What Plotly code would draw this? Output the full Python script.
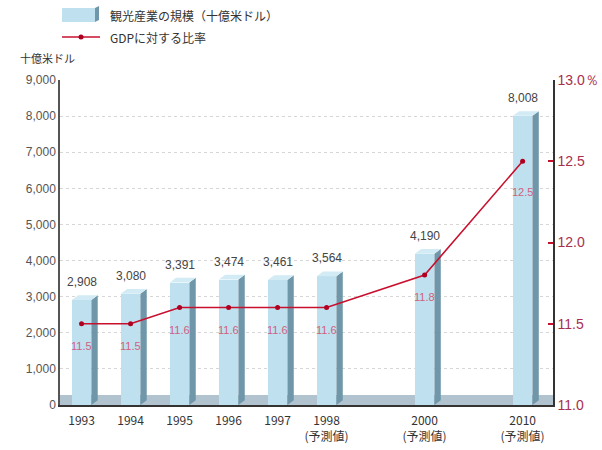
import plotly.graph_objects as go

# ---- data ----
categories = ["1993", "1994", "1995", "1996", "1997", "1998", "2000", "2010"]
forecast = [False, False, False, False, False, True, True, True]
positions = [0, 1, 2, 3, 4, 5, 7, 9]
tourism_size = [2908, 3080, 3391, 3474, 3461, 3564, 4190, 8008]
gdp_ratio = [11.5, 11.5, 11.6, 11.6, 11.6, 11.6, 11.8, 12.5]
left_ticks = [0, 1000, 2000, 3000, 4000, 5000, 6000, 7000, 8000, 9000]
right_ticks = [11.0, 11.5, 12.0, 12.5, 13.0]
right_ticktext = ["11.0", "11.5", "12.0", "12.5", "13.0％"]

# ---- style ----
FRONT = "#bfe1ef"
SIDE = "#6f97a9"
TOP = "#d2ebf5"
FLOOR = "#b0c3cf"
RED = "#c8102e"
FONT = "Liberation Sans, Arial, sans-serif"
JFONT = "Noto Sans CJK JP, sans-serif"

half_w = 0.2
depth_x = 0.13
depth_y = 130

tick_text = [c + ("<br>(予測値)" if f else "") for c, f in zip(categories, forecast)]

fig = go.Figure()

# front faces
fig.add_trace(go.Bar(
    x=positions, y=tourism_size, width=2 * half_w,
    marker=dict(color=FRONT, line=dict(width=0)),
    hoverinfo="skip", showlegend=False, yaxis="y",
))

# side faces and top faces, derived from the data
sx, sy, tx, ty = [], [], [], []
for p, v in zip(positions, tourism_size):
    xr = p + half_w
    xl = p - half_w
    sx += [xr, xr + depth_x, xr + depth_x, xr, xr, None]
    sy += [0, depth_y, v + depth_y, v, 0, None]
    tx += [xl, xr, xr + depth_x, xl + depth_x, xl, None]
    ty += [v, v, v + depth_y, v + depth_y, v, None]

fig.add_trace(go.Scatter(x=sx, y=sy, mode="lines", fill="toself", fillcolor=SIDE,
                         line=dict(width=0, color=SIDE), hoverinfo="skip",
                         showlegend=False, yaxis="y"))
fig.add_trace(go.Scatter(x=tx, y=ty, mode="lines", fill="toself", fillcolor=TOP,
                         line=dict(width=0, color=TOP), hoverinfo="skip",
                         showlegend=False, yaxis="y"))

# ratio line
fig.add_trace(go.Scatter(
    x=positions, y=gdp_ratio, mode="lines+markers", yaxis="y2",
    line=dict(color=RED, width=1.6),
    marker=dict(color="#b00020", size=5),
    hoverinfo="skip", showlegend=False,
))

annotations = []
for p, v in zip(positions, tourism_size):
    annotations.append(dict(x=p, y=v, xref="x", yref="y", text=f"{v:,}",
                            showarrow=False, yanchor="bottom", yshift=9,
                            font=dict(family=FONT, size=12, color="#444")))
for p, r in zip(positions, gdp_ratio):
    annotations.append(dict(x=p, y=r, xref="x", yref="y2", text=f"{r:.1f}",
                            showarrow=False, yanchor="middle",
                            yshift=-22 if r < 12 else -31,
                            font=dict(family=FONT, size=11, color="#cf6080")))

W, H = 602, 450
ML, MR, MT, MB = 60, 49, 80, 45
pw, ph = W - ML - MR, H - MT - MB


def px_to_paper(x, y):
    return (x - ML) / pw, (H - MB - y) / ph


for txt, x, y, size in [("十億米ドル", 18, 58, 11),
                        ("観光産業の規模（十億米ドル）", 108, 15, 12),
                        ("GDPに対する比率", 108, 37, 12)]:
    px, py = px_to_paper(x, y)
    annotations.append(dict(x=px, y=py, xref="paper", yref="paper", text=txt,
                            showarrow=False, xanchor="left", yanchor="middle",
                            font=dict(family=JFONT, size=size, color="#333")))

shapes = []
# floor band behind bars
shapes.append(dict(type="rect", xref="paper", yref="y", x0=0, x1=1, y0=0, y1=280,
                   fillcolor=FLOOR, line=dict(width=0), layer="below"))
# legend swatches
x0, y0 = px_to_paper(62, 8)
x1, y1 = px_to_paper(95, 22)
shapes.append(dict(type="rect", xref="paper", yref="paper", x0=x0, x1=x1, y0=y1, y1=y0,
                   fillcolor=FRONT, line=dict(width=0)))
x2, y2 = px_to_paper(99, 6)
shapes.append(dict(type="path", xref="paper", yref="paper",
                   path=f"M {x1},{y1} L {x2},{px_to_paper(0,20)[1]} L {x2},{y2} L {x1},{y0} Z",
                   fillcolor=SIDE, line=dict(width=0)))
lx0, ly = px_to_paper(62, 37)
lx1, _ = px_to_paper(100, 37)
shapes.append(dict(type="line", xref="paper", yref="paper", x0=lx0, x1=lx1, y0=ly, y1=ly,
                   line=dict(color=RED, width=1.6)))
mx, _ = px_to_paper(81, 37)
dx, dy = 2.5 / pw, 2.5 / ph
shapes.append(dict(type="circle", xref="paper", yref="paper", x0=mx - dx, x1=mx + dx,
                   y0=ly - dy, y1=ly + dy, fillcolor="#b00020", line=dict(width=0)))

fig.update_layout(
    width=W, height=H,
    margin=dict(l=ML, r=MR, t=MT, b=MB, autoexpand=False),
    paper_bgcolor="white", plot_bgcolor="white",
    showlegend=False, bargap=0,
    font=dict(family=FONT, size=12, color="#444"),
    xaxis=dict(range=[-0.44, 9.62], tickvals=positions, ticktext=tick_text,
               showgrid=False, zeroline=False, showline=True, linecolor="#333",
               linewidth=1.5, ticks="", ticklabelstandoff=4, automargin=False,
               tickfont=dict(family=JFONT, size=12, color="#333")),
    yaxis=dict(range=[0, 9000], tickvals=left_ticks, tickformat=",", automargin=False,
               showgrid=True, gridcolor="#d6d6d6", griddash="dot", gridwidth=1,
               zeroline=False, showline=True, linecolor="#555", linewidth=1.5,
               ticks="", tickfont=dict(family=FONT, size=12, color="#555")),
    yaxis2=dict(range=[11, 13], overlaying="y", side="right", tickvals=right_ticks,
                ticktext=right_ticktext, showgrid=False, zeroline=False, automargin=False,
                showline=True, linecolor="#333", linewidth=1.5,
                ticks="inside", ticklen=5, tickcolor=RED, tickwidth=1.5,
                tickfont=dict(family=FONT, size=14, color="#a8304c")),
    annotations=annotations,
    shapes=shapes,
)

fig.write_html("out.html")
